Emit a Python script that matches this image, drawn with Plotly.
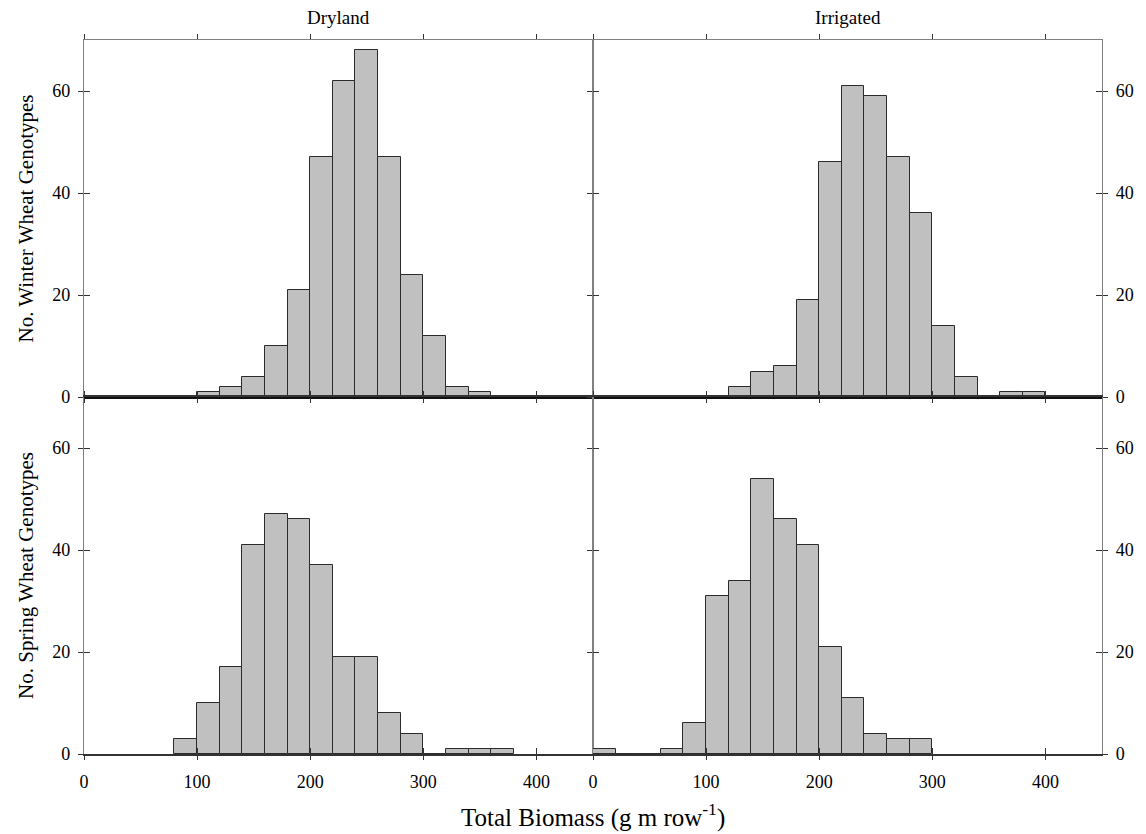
import plotly.graph_objects as go

# ---- data (bin left edges, width 20 g m row^-1) ----
bin_width = 20
bins_top_dry = [100, 120, 140, 160, 180, 200, 220, 240, 260, 280, 300, 320, 340]
counts_top_dry = [1, 2, 4, 10, 21, 47, 62, 68, 47, 24, 12, 2, 1]

bins_top_irr = [120, 140, 160, 180, 200, 220, 240, 260, 280, 300, 320, 340, 360, 380]
counts_top_irr = [2, 5, 6, 19, 46, 61, 59, 47, 36, 14, 4, 0, 1, 1]

bins_bot_dry = [80, 100, 120, 140, 160, 180, 200, 220, 240, 260, 280, 300, 320, 340, 360]
counts_bot_dry = [3, 10, 17, 41, 47, 46, 37, 19, 19, 8, 4, 0, 1, 1, 1]

bins_bot_irr = [0, 20, 40, 60, 80, 100, 120, 140, 160, 180, 200, 220, 240, 260, 280]
counts_bot_irr = [1, 0, 0, 1, 6, 31, 34, 54, 46, 41, 21, 11, 4, 3, 3]

col_titles = ["Dryland", "Irrigated"]
row_titles = ["No. Winter Wheat Genotypes", "No. Spring Wheat Genotypes"]
x_title = "Total Biomass (g m row<sup>-1</sup>)"
x_ticks = [0, 100, 200, 300, 400]
y_ticks = [0, 20, 40, 60]
x_range = [0, 450]
y_range = [0, 70]

FONT = "Liberation Serif, Times New Roman, serif"
BAR_FILL = "#c0c0c0"
BAR_LINE = "#2b2b2b"
FRAME = "#808080"

panels = [
    # (bins, counts, x-domain, y-domain, side, is_top)
    (bins_top_dry, counts_top_dry, [0, 0.5], [0.5, 1], "left", True),
    (bins_top_irr, counts_top_irr, [0.5, 1], [0.5, 1], "right", True),
    (bins_bot_dry, counts_bot_dry, [0, 0.5], [0, 0.5], "left", False),
    (bins_bot_irr, counts_bot_irr, [0.5, 1], [0, 0.5], "right", False),
]

fig = go.Figure()
layout = {}
for i, (bins, counts, xd, yd, side, is_top) in enumerate(panels, start=1):
    xs = "" if i == 1 else str(i)
    fig.add_trace(go.Bar(
        x=bins, y=counts, width=bin_width, offset=0,
        xaxis="x" + xs, yaxis="y" + xs,
        marker=dict(color=BAR_FILL, line=dict(color=BAR_LINE, width=1)),
        showlegend=False, hoverinfo="x+y",
    ))
    # main axes (outside ticks)
    layout["xaxis" + xs] = dict(
        domain=xd, range=x_range, anchor="y" + xs,
        tickmode="array", tickvals=x_ticks,
        ticks="outside", ticklen=5, tickwidth=1, tickcolor="#333",
        showline=True, linecolor=FRAME, linewidth=1.2, mirror="ticks",
        showgrid=False, zeroline=False,
        showticklabels=not is_top,
        tickfont=dict(family=FONT, size=18, color="black"),
        ticklabelstandoff=6,
    )
    layout["yaxis" + xs] = dict(
        domain=yd, range=y_range, anchor="x" + xs, side=side,
        tickmode="array", tickvals=y_ticks,
        ticks="outside", ticklen=5, tickwidth=1, tickcolor="#333",
        showline=True, linecolor=FRAME, linewidth=1.2, mirror="ticks",
        showgrid=False, zeroline=False,
        tickfont=dict(family=FONT, size=18, color="black"),
        ticklabelstandoff=4,
    )
    if side == "left":
        layout["yaxis" + xs]["title"] = dict(
            text=row_titles[0 if is_top else 1],
            font=dict(family=FONT, size=21, color="black"), standoff=12)
    # overlay axes for inside (crossing) ticks and the dark baseline
    j = str(i + 4)
    layout["xaxis" + j] = dict(
        overlaying="x" + xs, anchor="y" + xs, range=x_range,
        tickmode="array", tickvals=x_ticks,
        ticks="inside", ticklen=6, tickwidth=1, tickcolor="#333",
        showline=True, linecolor="#111" if is_top else "#333",
        linewidth=2.2 if is_top else 1.6,
        mirror=False if is_top else True,
        showgrid=False, zeroline=False, showticklabels=False,
    )
    layout["yaxis" + j] = dict(
        overlaying="y" + xs, anchor="x" + xs, range=y_range, side=side,
        tickmode="array", tickvals=y_ticks,
        ticks="inside", ticklen=6, tickwidth=1, tickcolor="#333",
        showline=False, mirror="ticks",
        showgrid=False, zeroline=False, showticklabels=False,
    )
    # invisible helper traces so overlay subplots are drawn
    fig.add_trace(go.Scatter(x=[], y=[], xaxis="x" + j, yaxis="y" + j,
                             showlegend=False, hoverinfo="skip"))
    fig.add_trace(go.Scatter(x=[], y=[], xaxis="x" + j, yaxis="y" + xs,
                             showlegend=False, hoverinfo="skip"))
    fig.add_trace(go.Scatter(x=[], y=[], xaxis="x" + xs, yaxis="y" + j,
                             showlegend=False, hoverinfo="skip"))

annotations = [
    dict(text=col_titles[0], x=0.25, y=1, xref="paper", yref="paper",
         xanchor="center", yanchor="middle", yshift=23, showarrow=False,
         font=dict(family=FONT, size=19, color="black")),
    dict(text=col_titles[1], x=0.75, y=1, xref="paper", yref="paper",
         xanchor="center", yanchor="middle", yshift=23, showarrow=False,
         font=dict(family=FONT, size=19, color="black")),
    dict(text=x_title, x=0.5, y=0, xref="paper", yref="paper",
         xanchor="center", yanchor="middle", yshift=-61, showarrow=False,
         font=dict(family=FONT, size=25, color="black")),
]

fig.update_layout(
    **layout,
    annotations=annotations,
    width=1146, height=834,
    margin=dict(l=84, r=42, t=40, b=80),
    paper_bgcolor="white", plot_bgcolor="white",
    bargap=0, barmode="overlay",
    font=dict(family=FONT, color="black"),
)

fig.write_html("out.html")
